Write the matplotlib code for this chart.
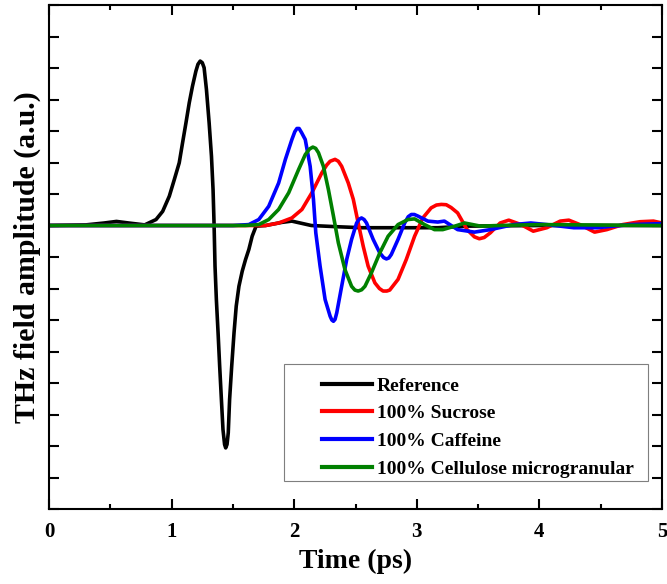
import matplotlib
matplotlib.use("Agg")
import matplotlib.pyplot as plt
from matplotlib.patches import Rectangle

# THz time-domain waveforms
t_ref = [0.0, 0.30, 0.45, 0.55, 0.65, 0.78, 0.873, 0.927, 0.981, 1.022, 1.062, 1.089,
         1.117, 1.144, 1.170, 1.198, 1.215, 1.233, 1.250, 1.265, 1.284, 1.306, 1.325,
         1.338, 1.346, 1.354, 1.365, 1.379, 1.392, 1.406, 1.419, 1.432, 1.441, 1.452,
         1.462, 1.473, 1.490, 1.509, 1.527, 1.549, 1.576, 1.603, 1.630, 1.657, 1.689,
         1.766, 1.90, 1.98, 2.14, 2.36, 2.55, 2.90, 3.17, 3.40, 4.00, 5.00]
a_ref = [0.0, 0.02, 0.08, 0.13, 0.08, 0.02, 0.19, 0.45, 0.93, 1.46, 1.99, 2.62,
         3.26, 3.90, 4.42, 4.90, 5.12, 5.22, 5.17, 5.01, 4.32, 3.26, 2.20,
         1.14, 0.08, -1.29, -2.35, -3.41, -4.47, -5.52, -6.48, -6.95, -7.06, -6.95,
         -6.58, -5.52, -4.47, -3.41, -2.56, -1.93, -1.45, -1.08, -0.76, -0.34, -0.02,
         0.0, 0.10, 0.14, 0.0, -0.04, -0.07, -0.07, -0.07, -0.02, 0.0, 0.0]

t_suc = [0.0, 1.766, 1.873, 1.981, 2.063, 2.144, 2.225, 2.265, 2.293, 2.333, 2.360,
         2.387, 2.441, 2.482, 2.522, 2.563, 2.603, 2.658, 2.695, 2.725, 2.755, 2.779,
         2.847, 2.914, 2.982, 3.049, 3.117, 3.16, 3.20, 3.24, 3.28, 3.333, 3.41, 3.47,
         3.51, 3.55, 3.60, 3.68, 3.75, 3.85, 3.95, 4.06, 4.17, 4.24, 4.33, 4.45, 4.55,
         4.68, 4.82, 4.93, 5.00]
a_suc = [0.0, 0.0, 0.08, 0.24, 0.51, 1.04, 1.67, 1.92, 2.04, 2.10, 2.04,
         1.88, 1.35, 0.83, 0.08, -0.66, -1.29, -1.82, -2.00, -2.08, -2.08, -2.05,
         -1.71, -1.08, -0.34, 0.24, 0.56, 0.65, 0.67, 0.66, 0.57, 0.40, -0.13, -0.36,
         -0.42, -0.38, -0.23, 0.08, 0.17, 0.03, -0.18, -0.07, 0.14, 0.17, 0.03, -0.21,
         -0.13, 0.03, 0.12, 0.14, 0.08]

t_caf = [0.0, 1.50, 1.630, 1.711, 1.792, 1.873, 1.928, 1.981, 2.005, 2.022, 2.040,
         2.060, 2.090, 2.130, 2.157, 2.176, 2.211, 2.252, 2.293, 2.307, 2.320, 2.333,
         2.347, 2.387, 2.428, 2.468, 2.509, 2.530, 2.549, 2.570, 2.590, 2.644, 2.698,
         2.730, 2.752, 2.772, 2.792, 2.847, 2.901, 2.930, 2.955, 2.980, 3.009, 3.090,
         3.171, 3.225, 3.333, 3.47, 3.60, 3.79, 3.93, 4.06, 4.28, 4.47, 4.74, 5.00]
a_caf = [0.0, 0.0, 0.03, 0.19, 0.61, 1.35, 2.10, 2.73, 2.98, 3.08, 3.08,
         2.95, 2.73, 1.88, 0.83, -0.23, -1.29, -2.35, -2.88, -3.00, -3.04, -2.98,
         -2.77, -1.93, -1.08, -0.44, 0.08, 0.20, 0.24, 0.19, 0.08, -0.44, -0.87,
         -1.02, -1.06, -1.03, -0.92, -0.44, 0.08, 0.28, 0.35, 0.35, 0.30, 0.14,
         0.11, 0.14, -0.13, -0.21, -0.13, 0.03, 0.08, 0.03, -0.07, -0.07, 0.03,
         0.06]

t_cel = [0.0, 1.60, 1.711, 1.792, 1.873, 1.955, 2.036, 2.090, 2.125, 2.152, 2.175,
         2.198, 2.238, 2.279, 2.320, 2.360, 2.414, 2.468, 2.495, 2.522, 2.550, 2.577,
         2.630, 2.698, 2.766, 2.847, 2.928, 2.982, 3.063, 3.144, 3.212, 3.31, 3.39,
         3.52, 3.66, 4.00, 5.00]
a_cel = [0.0, 0.0, 0.03, 0.19, 0.51, 1.04, 1.78, 2.25, 2.43, 2.49, 2.45,
         2.31, 1.88, 1.14, 0.30, -0.55, -1.40, -1.93, -2.05, -2.08, -2.04, -1.93,
         -1.50, -0.87, -0.34, 0.03, 0.19, 0.21, 0.03, -0.13, -0.13, -0.02, 0.08,
         -0.02, 0.0, 0.03, 0.0]

series = [
    (t_ref, a_ref, "black", "Reference"),
    (t_suc, a_suc, "#ff0000", "100% Sucrose"),
    (t_caf, a_caf, "#0000ff", "100% Caffeine"),
    (t_cel, a_cel, "#008000", "100% Cellulose microgranular"),
]

plt.rcParams['font.family'] = ['Liberation Serif', 'DejaVu Serif']
plt.rcParams['font.weight'] = 'bold'

fig = plt.figure(figsize=(6.67, 5.84), dpi=100)
ax = fig.add_axes([0.0735, 0.1284, 0.919, 0.863])

for t, a, c, lab in series:
    ax.plot(t, a, color=c, lw=2.6, label=lab, solid_joinstyle='round')

ax.set_xlim(0, 5)
ax.set_ylim(-9, 7)
ax.set_xticks(range(0, 6))
ax.set_xticks([0.5, 1.5, 2.5, 3.5, 4.5], minor=True)
ax.set_yticks(range(-9, 8))
ax.set_yticklabels([])

for s in ax.spines.values():
    s.set_linewidth(1.5)
ax.tick_params(which='both', direction='in', top=True, right=True, width=1.5)
ax.tick_params(which='major', length=7.5, labelsize=15, pad=9)
ax.tick_params(which='minor', length=3.5)

ax.set_xlabel('Time (ps)', fontsize=20, fontweight='bold', labelpad=5)
ax.set_ylabel('THz field amplitude (a.u.)', fontsize=21.5, fontweight='bold', labelpad=-3)

# legend box drawn separately so the entries can sit inset like the original
ax.add_patch(Rectangle((0.3834, 0.0556), 0.5938, 0.2321, transform=ax.transAxes,
                       fill=False, edgecolor='#7f7f7f', lw=0.8, zorder=5))
leg = ax.legend(loc='upper left', bbox_to_anchor=(0.445, 0.262), frameon=False,
                fontsize=14, handlelength=2.57, handletextpad=0.26,
                labelspacing=0.52, borderpad=0, borderaxespad=0)
for h in leg.get_lines():
    h.set_linewidth(3)

fig.savefig('out.png', dpi=100)
